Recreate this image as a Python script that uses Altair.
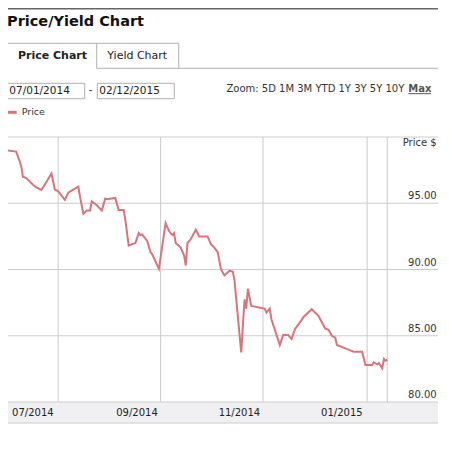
import altair as alt
import pandas as pd

# ---- data ----
dates = [
    "2014-07-01", "2014-07-07", "2014-07-09", "2014-07-10", "2014-07-11", "2014-07-13",
    "2014-07-15", "2014-07-17", "2014-07-19", "2014-07-22", "2014-07-25", "2014-07-28",
    "2014-07-30", "2014-08-01", "2014-08-05", "2014-08-07", "2014-08-09", "2014-08-13",
    "2014-08-14", "2014-08-16", "2014-08-18", "2014-08-20", "2014-08-21", "2014-08-24",
    "2014-08-27", "2014-08-29", "2014-08-30", "2014-09-04", "2014-09-06", "2014-09-09",
    "2014-09-10", "2014-09-12", "2014-09-15", "2014-09-16", "2014-09-18", "2014-09-19",
    "2014-09-20", "2014-09-23", "2014-09-25", "2014-09-26", "2014-09-30", "2014-10-04",
    "2014-10-06", "2014-10-08", "2014-10-09", "2014-10-10", "2014-10-13", "2014-10-15",
    "2014-10-16", "2014-10-17", "2014-10-19", "2014-10-22", "2014-10-24", "2014-10-29",
    "2014-10-31", "2014-11-02", "2014-11-04", "2014-11-06", "2014-11-08", "2014-11-11",
    "2014-11-13", "2014-11-14", "2014-11-18", "2014-11-20", "2014-11-21", "2014-11-22",
    "2014-11-24", "2014-12-02", "2014-12-03", "2014-12-05", "2014-12-06", "2014-12-11",
    "2014-12-13", "2014-12-16", "2014-12-18", "2014-12-20", "2014-12-24", "2014-12-25",
    "2014-12-30", "2015-01-03", "2015-01-07", "2015-01-09", "2015-01-11", "2015-01-13",
    "2015-01-14", "2015-01-22", "2015-01-24", "2015-01-29", "2015-01-31", "2015-02-04",
    "2015-02-05", "2015-02-07", "2015-02-08", "2015-02-10", "2015-02-11", "2015-02-12",
    "2015-02-13",
]
prices = [
    99.0, 98.9, 98.2, 97.8, 97.0, 96.9,
    96.65, 96.4, 96.2, 96.0, 96.6, 97.25,
    96.05, 95.9, 95.25, 95.8, 95.95, 96.25,
    95.5, 94.2, 94.45, 94.45, 95.15, 94.85,
    94.45, 95.35, 95.3, 95.4, 94.5, 94.5,
    93.75, 91.8, 91.95, 92.0, 92.75, 92.6,
    92.65, 92.15, 91.3, 91.15, 90.05, 93.5,
    92.9, 92.6, 92.75, 92.0, 91.65, 91.05,
    90.3, 92.0, 92.3, 93.0, 92.5, 92.5,
    91.9, 91.65, 91.3, 90.0, 89.55, 89.9,
    89.85, 89.2, 83.75, 87.75, 87.05, 88.55,
    87.25, 87.05, 86.75, 87.05, 86.25, 84.3,
    85.05, 85.05, 84.75, 85.5, 86.2, 86.4,
    87.0, 86.5, 85.55, 85.45, 85.0, 84.85,
    84.3, 83.9, 83.8, 83.8, 82.8, 82.8,
    83.0, 82.85, 82.95, 82.55, 83.25, 83.1,
    83.2,
]
y_ticks = [80, 85, 90, 95, 100]
y_tick_labels = ["80.00", "85.00", "90.00", "95.00"]
y_label_values = [80, 85, 90, 95]
grid_dates = ["2014-08-01", "2014-10-01", "2014-12-01", "2015-02-01", "2015-02-13"]
x_label_dates = ["2014-07-01", "2014-09-01", "2014-11-01", "2015-01-01"]
x_label_texts = ["07/2014", "09/2014", "11/2014", "01/2015"]
zoom_items = "Zoom: 5D 1M 3M YTD 1Y 3Y 5Y 10Y"

FONT = "DejaVu Sans"
LINE = "#da747c"
GRID = "#cccccc"
BORDER = "#b0b0b6"

W, H = 430, 265

df = pd.DataFrame({"date": dates, "price": prices})
xscale = alt.Scale(
    type="utc",
    domain=[alt.DateTime(year=2014, month=7, date=2, hours=3, utc=True),
            alt.DateTime(year=2015, month=3, date=15, hours=5, utc=True)],
)
yscale = alt.Scale(domain=[80, 100], zero=False, nice=False)

one = alt.Data(values=[{"k": 0}])


def txt(text, x, y, size=10, weight="normal", align="left", color="#333333"):
    return alt.Chart(alt.Data(values=[{"t": text}])).mark_text(
        align=align, baseline="middle", fontSize=size, fontWeight=weight,
        font=FONT, color=color
    ).encode(x=alt.value(x), y=alt.value(y), text="t:N")


def hrule(x1, x2, y, color=BORDER, sw=1):
    return alt.Chart(one).mark_rule(color=color, strokeWidth=sw).encode(
        x=alt.value(x1), x2=alt.value(x2), y=alt.value(y))


def vrule(x, y1, y2, color=BORDER, sw=1):
    return alt.Chart(one).mark_rule(color=color, strokeWidth=sw).encode(
        x=alt.value(x), y=alt.value(y1), y2=alt.value(y2))


def box(x1, x2, y1, y2, fill="white", stroke=BORDER):
    kw = dict(fill=fill)
    if stroke:
        kw.update(stroke=stroke, strokeWidth=1)
    return alt.Chart(one).mark_rect(**kw).encode(
        x=alt.value(x1), x2=alt.value(x2), y=alt.value(y1), y2=alt.value(y2))


# ---- page chrome above the plot ----
top_line = hrule(0, 430, -128.3, color="#666666", sw=1.6)
title = txt("Price/Yield Chart", -1, -115, size=14.5, weight="bold", color="#111111")

tabs = [
    vrule(-0.7, -93.7, -68.7),
    hrule(-0.7, 170.7, -93.7),
    vrule(88.7, -93.7, -68.7),
    vrule(170.7, -93.7, -68.7),
    hrule(88.7, 430, -68.7),
    txt("Price Chart", 44.5, -81, size=11, weight="bold", align="center", color="#222222"),
    txt("Yield Chart", 129.2, -81, size=11, align="center", color="#222222"),
]

date_boxes = [
    box(-0.5, 76.7, -53.7, -38.3),
    box(89.3, 166.3, -53.7, -38.3),
    txt("07/01/2014", 1.3, -46, size=10.5, color="#222222"),
    txt("-", 82.7, -47, size=10.5, align="center", color="#222222"),
    txt("02/12/2015", 91.3, -46, size=10.5, color="#222222"),
]

zoom = [
    txt(zoom_items, 396.3, -48.5, size=10, align="right", color="#333333"),
    txt("Max", 400.3, -48.5, size=10, weight="bold", color="#555555"),
    hrule(400.3, 423, -43.3, color="#555555", sw=1),
]

legend = [
    hrule(-0.7, 8.7, -24.7, color=LINE, sw=3),
    txt("Price", 13.7, -25.5, size=9.5, color="#333333"),
]

# ---- plot ----
band = box(0, W, H, H + 21, fill="#f0f0f2", stroke=None)
band_line = hrule(0, W, H + 21, color=GRID)

hgrid = alt.Chart(pd.DataFrame({"v": y_ticks})).mark_rule(
    color=GRID, strokeWidth=1
).encode(y=alt.Y("v:Q", scale=yscale, axis=None), x=alt.value(0), x2=alt.value(W))

vgrid = alt.Chart(pd.DataFrame({"date": grid_dates})).mark_rule(
    color=GRID, strokeWidth=1
).encode(x=alt.X("date:T", scale=xscale, axis=None), y=alt.value(0), y2=alt.value(H))

line = alt.Chart(df).mark_line(color=LINE, strokeWidth=2, clip=False).encode(
    x=alt.X("date:T", scale=xscale, axis=None),
    y=alt.Y("price:Q", scale=yscale, axis=None),
)

ylabels = alt.Chart(pd.DataFrame({"v": y_label_values, "t": y_tick_labels})).mark_text(
    align="right", baseline="middle", dy=-7, fontSize=10, font=FONT, color="#333333"
).encode(x=alt.value(428.7), y=alt.Y("v:Q", scale=yscale, axis=None), text="t:N")

ytitle = txt("Price $", 428.7, 6, size=10, align="right", color="#333333")

xlabels = alt.Chart(pd.DataFrame({"date": x_label_dates, "t": x_label_texts})).mark_text(
    align="left", baseline="middle", dx=6, fontSize=10, font=FONT, color="#222222"
).encode(x=alt.X("date:T", scale=xscale, axis=None), y=alt.value(H + 11), text="t:N")

chart = alt.layer(
    band, band_line, hgrid, vgrid, line, ylabels, ytitle, xlabels,
    top_line, title, *tabs, *date_boxes, *zoom, *legend,
).properties(
    width=W, height=H,
    autosize=alt.AutoSizeParams(type="none"),
    padding={"left": 0, "top": 129, "right": 3, "bottom": 24},
    background="white",
).configure_view(stroke=None)

chart.save("out.html", embed_options={"renderer": "svg", "actions": False})
